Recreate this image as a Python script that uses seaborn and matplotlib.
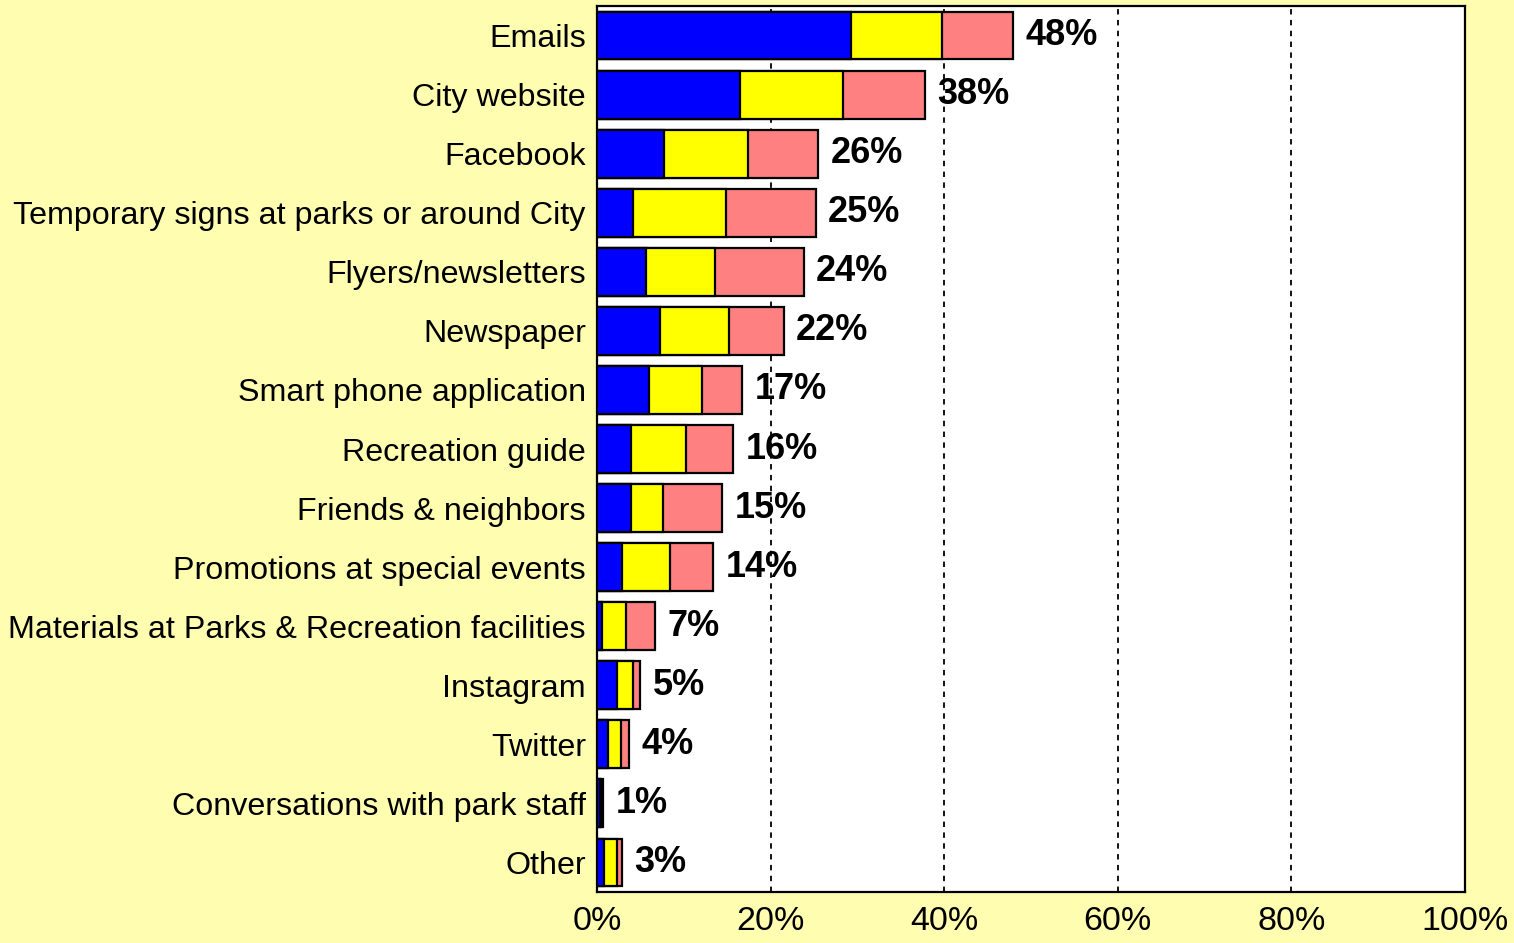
import matplotlib
matplotlib.use("Agg")
import matplotlib.pyplot as plt
import numpy as np
import pandas as pd
import seaborn as sns

categories = [
    "Emails",
    "City website",
    "Facebook",
    "Temporary signs at parks or around City",
    "Flyers/newsletters",
    "Newspaper",
    "Smart phone application",
    "Recreation guide",
    "Friends & neighbors",
    "Promotions at special events",
    "Materials at Parks & Recreation facilities",
    "Instagram",
    "Twitter",
    "Conversations with park staff",
    "Other",
]
# three stacked segments (percent of respondents)
blue_vals = [29.3, 16.5, 7.7, 4.1, 5.6, 7.3, 6.0, 3.9, 3.9, 2.9, 0.6, 2.3, 1.3, 0.3, 0.8]
yellow_vals = [10.5, 11.8, 9.7, 10.8, 8.0, 7.9, 6.1, 6.4, 3.7, 5.5, 2.7, 1.8, 1.5, 0.2, 1.5]
pink_vals = [8.1, 9.5, 8.1, 10.3, 10.2, 6.3, 4.6, 5.4, 6.8, 5.0, 3.4, 0.9, 0.9, 0.2, 0.6]
total_labels = ["48%", "38%", "26%", "25%", "24%", "22%", "17%", "16%", "15%",
                "14%", "7%", "5%", "4%", "1%", "3%"]
x_ticks = [0, 20, 40, 60, 80, 100]
x_ticklabels = ["0%", "20%", "40%", "60%", "80%", "100%"]

bg = "#FFFDB0"
plt.rcParams["font.family"] = ["Liberation Sans", "DejaVu Sans"]

df = pd.DataFrame({"cat": categories, "blue": blue_vals,
                   "yellow": yellow_vals, "pink": pink_vals})
df["c1"] = df["blue"]
df["c2"] = df["blue"] + df["yellow"]
df["c3"] = df["c2"] + df["pink"]

fig = plt.figure(figsize=(15.14, 9.43), dpi=100, facecolor=bg)
ax = fig.add_axes([0.3943, 0.0541, 0.5733, 0.9395])
ax.set_facecolor("white")

# stack by drawing the cumulative totals from widest to narrowest
for col, color in [("c3", "#FF8080"), ("c2", "#FFFF00"), ("c1", "#0000FF")]:
    sns.barplot(data=df, x=col, y="cat", orient="h", color=color,
                edgecolor="black", linewidth=1.6, width=0.81,
                saturation=1, ax=ax, zorder=3)

for i, (tot, lab) in enumerate(zip(df["c3"], total_labels)):
    ax.annotate(lab, xy=(tot, i), xytext=(9, 0), textcoords="offset points",
                ha="left", va="center", fontsize=26, fontweight="bold",
                color="black", zorder=1)

ax.set_xlim(0, 100)
ax.set_ylim(len(categories) - 0.5, -0.5)
ax.set_xticks(x_ticks)
ax.set_xticklabels(x_ticklabels)
ax.set_axisbelow("line")
ax.grid(axis="x", color="black", linestyle=(0, (3, 3)), linewidth=1.3)
ax.grid(axis="y", visible=False)
ax.tick_params(axis="x", length=0, pad=10, labelsize=24.5)
ax.tick_params(axis="y", length=0, pad=8, labelsize=23.2)
ax.set_xlabel("")
ax.set_ylabel("")
for s in ax.spines.values():
    s.set_color("black")
    s.set_linewidth(1.6)

fig.savefig("out.png", dpi=100, facecolor=bg)
